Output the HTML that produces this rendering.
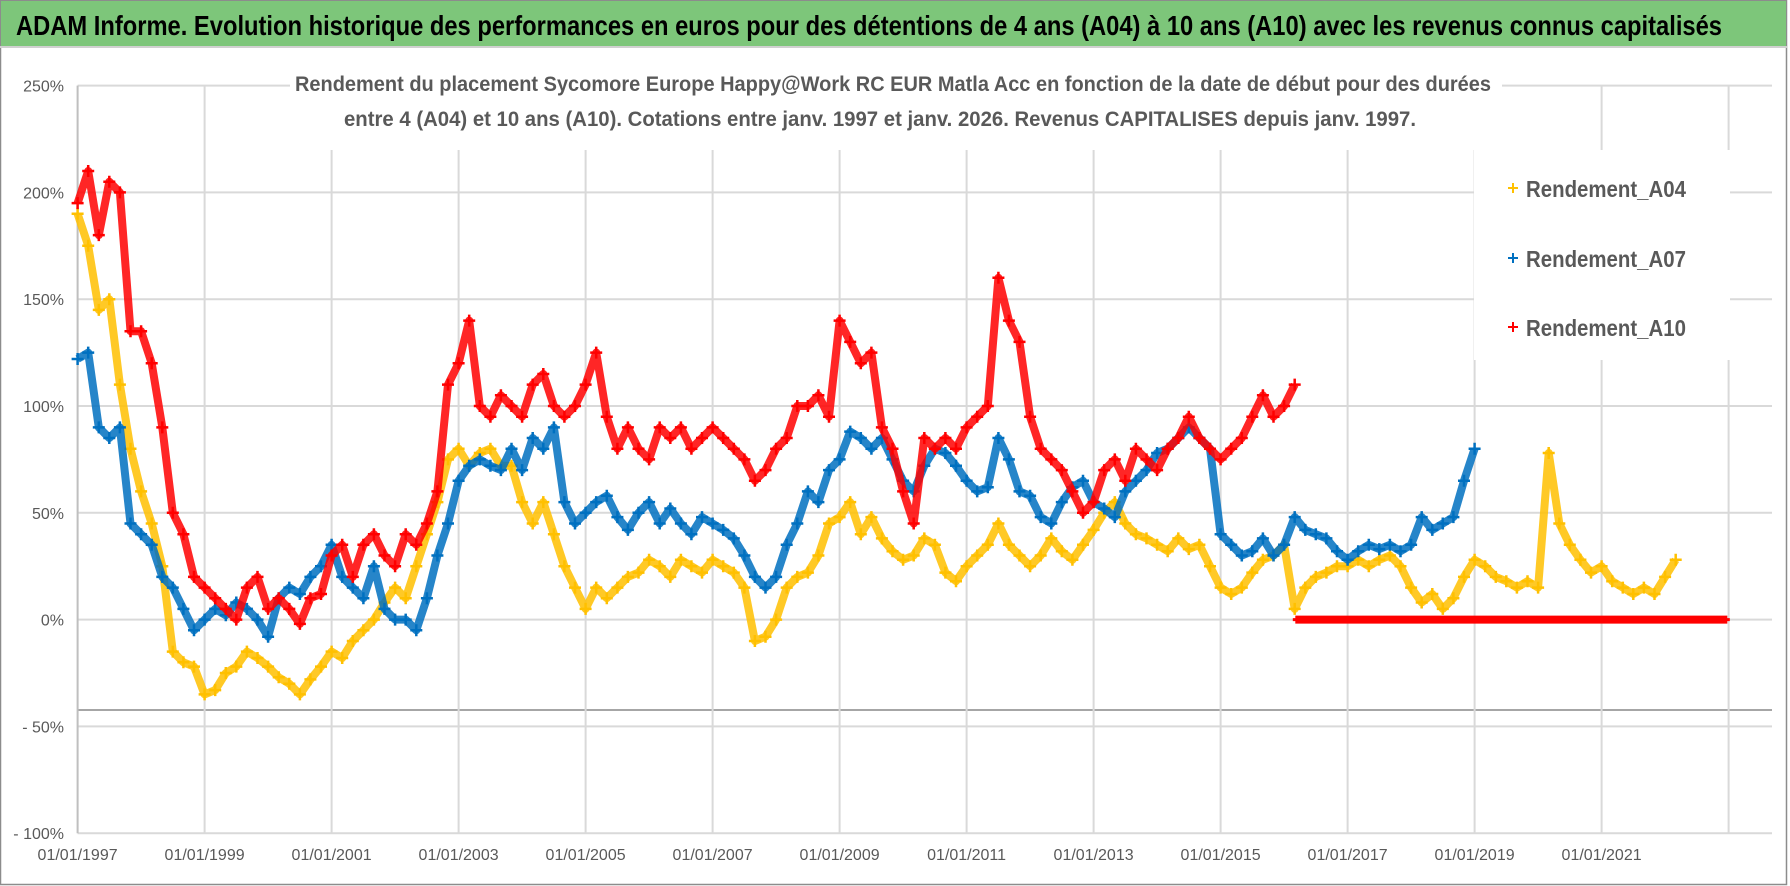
<!DOCTYPE html>
<html><head><meta charset="utf-8">
<style>
html,body{margin:0;padding:0;background:#fff;}
svg{display:block;font-family:"Liberation Sans",sans-serif;}
</style></head>
<body>
<svg id="chart" width="1790" height="886" viewBox="0 0 1790 886" xmlns="http://www.w3.org/2000/svg">
<rect x="0" y="0" width="1790" height="886" fill="#fff"/>
<rect x="0.5" y="0.5" width="1786" height="884" fill="none" stroke="#8c8c8c" stroke-width="1.5"/>
<rect x="1" y="1" width="1785" height="45" fill="#7dc67a"/>
<line x1="0" y1="47" x2="1787" y2="47" stroke="#d0d0d0" stroke-width="2"/>
<text x="16" y="35" font-size="28" font-weight="bold" fill="#000" textLength="1706" lengthAdjust="spacingAndGlyphs">ADAM Informe. Evolution historique des performances en euros pour des détentions de 4 ans (A04) à 10 ans (A10) avec les revenus connus capitalisés</text>
<g id="grid"></g>
<g id="axes"></g>
<rect x="290" y="70" width="1212" height="80" fill="#fff"/>
<rect x="1474" y="150" width="256" height="210" fill="#fff"/>
<g id="marks"></g>
<text x="893" y="91" font-size="21" font-weight="bold" fill="#595959" text-anchor="middle" textLength="1196" lengthAdjust="spacingAndGlyphs">Rendement du placement Sycomore Europe Happy@Work RC EUR Matla Acc en fonction de la date de début pour des durées</text>
<text x="880" y="126" font-size="21" font-weight="bold" fill="#595959" text-anchor="middle" textLength="1072" lengthAdjust="spacingAndGlyphs">entre 4 (A04) et 10 ans (A10).  Cotations entre janv. 1997 et janv. 2026. Revenus CAPITALISES depuis janv. 1997.</text>
<g id="legend">
 <g>
  <path d="M1508 188h10M1513 183v10" stroke="#ffc000" stroke-width="2"/>
  <text x="1526" y="197" font-size="23" font-weight="bold" fill="#595959" textLength="160" lengthAdjust="spacingAndGlyphs">Rendement_A04</text>
 </g>
 <g>
  <path d="M1508 258h10M1513 253v10" stroke="#0070c0" stroke-width="2"/>
  <text x="1526" y="267" font-size="23" font-weight="bold" fill="#595959" textLength="160" lengthAdjust="spacingAndGlyphs">Rendement_A07</text>
 </g>
 <g>
  <path d="M1508 327h10M1513 322v10" stroke="#ff0000" stroke-width="2"/>
  <text x="1526" y="336" font-size="23" font-weight="bold" fill="#595959" textLength="160" lengthAdjust="spacingAndGlyphs">Rendement_A10</text>
 </g>
</g>
</svg>
<script>
const yTicks=[250,200,150,100,50,0,-50,-100];
const yTickLabels=["250%","200%","150%","100%","50%","0%","- 50%","- 100%"];
const xTicks=[1997,1999,2001,2003,2005,2007,2009,2011,2013,2015,2017,2019,2021];
const xTickLabels=["01/01/1997","01/01/1999","01/01/2001","01/01/2003","01/01/2005","01/01/2007","01/01/2009","01/01/2011","01/01/2013","01/01/2015","01/01/2017","01/01/2019","01/01/2021"];
const stepYears=1/6;
const a04Start=1997;
const a04=[190,175,145,150,110,80,60,45,25,-15,-20,-22,-35,-33,-25,-22,-15,-18,-22,-27,-30,-35,-28,-22,-15,-18,-10,-5,0,8,15,10,25,40,55,75,80,72,78,80,72,72,55,45,55,40,25,15,5,15,10,15,20,22,28,25,20,28,25,22,28,25,22,15,-10,-8,0,15,20,22,30,45,48,55,40,48,38,32,28,30,38,35,22,18,25,30,35,45,35,30,25,30,38,32,28,35,42,50,55,45,40,38,35,32,38,33,35,25,15,12,15,22,28,30,35,5,15,20,22,25,25,28,25,28,30,25,15,8,12,5,10,20,28,25,20,18,15,18,15,78,45,35,28,22,25,18,15,12,15,12,20,28];
const a07Start=1997;
const a07=[122,125,90,85,90,45,40,35,20,15,5,-5,0,5,2,8,5,0,-8,10,15,12,20,25,35,20,15,10,25,5,0,0,-5,10,30,45,65,72,75,72,70,80,70,85,80,90,55,45,50,55,58,48,42,50,55,45,52,45,40,48,45,42,38,30,20,15,20,35,45,60,55,70,75,88,85,80,85,75,65,60,72,80,78,72,65,60,62,85,75,60,58,48,45,55,62,65,55,52,48,60,65,70,78,80,85,90,85,80,40,35,30,32,38,30,35,48,42,40,38,32,28,32,35,33,35,32,35,48,42,45,48,65,80];
const a10Start=1997;
const a10=[195,210,180,205,200,135,135,120,90,50,40,20,15,10,5,0,15,20,5,10,5,-2,10,12,30,35,20,35,40,30,25,40,35,45,60,110,120,140,100,95,105,100,95,110,115,100,95,100,110,125,95,80,90,80,75,90,85,90,80,85,90,85,80,75,65,70,80,85,100,100,105,95,140,130,120,125,90,80,60,45,85,80,85,80,90,95,100,160,140,130,95,80,75,70,60,50,55,70,75,65,80,75,70,80,85,95,85,80,75,80,85,95,105,95,100,110];
const a10ZeroStart=2016.2;
const a10ZeroEnd=2023.0;
const a10ZeroValue=0;

const X0=77.6, PXY=63.5, Y0=619.6, PXV=106.8/50;
function xs(yr){return X0+(yr-1997)*PXY;}
function ys(v){return Y0-v*PXV;}
const NS="http://www.w3.org/2000/svg";
const grid=document.getElementById('grid');
const axes=document.getElementById('axes');
const marks=document.getElementById('marks');
function mk(tag,attrs,parent){const e=document.createElementNS(NS,tag);for(const k in attrs)e.setAttribute(k,attrs[k]);parent.appendChild(e);return e;}

yTicks.forEach((v,i)=>{
  const l=mk('line',{x1:xs(1997),x2:1772,y1:ys(v),y2:ys(v),stroke:'#d9d9d9','stroke-width':2},grid);
  
  
  const t=mk('text',{x:64,y:ys(v)+6,'font-size':16,fill:'#595959','text-anchor':'end'},axes);
  t.textContent=yTickLabels[i];
  
  
});
const ref=mk('line',{x1:xs(1997),x2:1772,y1:710,y2:710,stroke:'#a6a6a6','stroke-width':2},grid);


xTicks.forEach((yr,i)=>{
  const l=mk('line',{x1:xs(yr),x2:xs(yr),y1:ys(250),y2:ys(-100),stroke:i===0?'#bfbfbf':'#d9d9d9','stroke-width':2},grid);
  
  
  const t=mk('text',{x:xs(yr),y:860,'font-size':16,fill:'#595959','text-anchor':'middle'},axes);
  t.textContent=xTickLabels[i];
  
  
});
const xl=mk('line',{x1:xs(2023),x2:xs(2023),y1:ys(250),y2:ys(-100),stroke:'#d9d9d9','stroke-width':2},grid);



function drawSeries(vals,start,color,name){
  const g=mk('g',{},marks);
  
  
  let d='';
  vals.forEach((v,i)=>{const x=xs(start+i*stepYears),y=ys(v);d+=(i?'L':'M')+x.toFixed(1)+' '+y.toFixed(1);});
  mk('path',{d:d,fill:'none',stroke:color,'stroke-width':8,'stroke-linejoin':'round','opacity':0.85},g);
  let pd='';
  vals.forEach((v,i)=>{const x=xs(start+i*stepYears),y=ys(v);pd+=`M${(x-6).toFixed(1)} ${y.toFixed(1)}h12M${x.toFixed(1)} ${(y-6).toFixed(1)}v12`;});
  const p=mk('path',{d:pd,fill:'none',stroke:color,'stroke-width':2.5},g);
  
  
}
drawSeries(a04,a04Start,'#ffc000','series-a04');
drawSeries(a07,a07Start,'#0070c0','series-a07');
drawSeries(a10,a10Start,'#ff0000','series-a10');
const z=mk('g',{},marks);


let zd='';
for(let x=xs(a10ZeroStart);x<=xs(a10ZeroEnd);x+=3){const y=ys(a10ZeroValue);zd+=`M${(x-4).toFixed(1)} ${y}h8M${x.toFixed(1)} ${y-4}v8`;}
mk('path',{d:zd,fill:'none',stroke:'#ff0000','stroke-width':3},z);
</script>
</body></html>
